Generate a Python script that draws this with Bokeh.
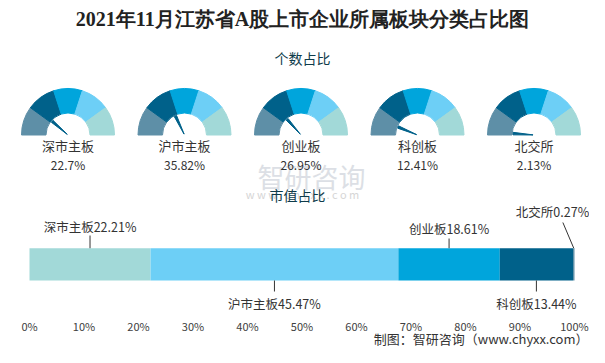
from bokeh.plotting import figure
from bokeh.models import Range1d, FixedTicker, PrintfTickFormatter
from bokeh.layouts import column
from bokeh.core.properties import value
from bokeh.embed import file_html
from bokeh.resources import INLINE
import numpy as np

# ---------------- data ----------------
title_text = "2021年11月江苏省A股上市企业所属板块分类占比图"
count_title = "个数占比"
value_title = "市值占比"
boards = ["深市主板", "沪市主板", "创业板", "科创板", "北交所"]
count_share = [22.7, 35.82, 26.95, 12.41, 2.13]     # % of companies
value_share = [22.21, 45.47, 18.61, 13.44, 0.27]    # % of market value
tick_values = [0, 10, 20, 30, 40, 50, 60, 70, 80, 90, 100]
source_note = "制图：智研咨询（www.chyxx.com）"

# ---------------- styles ----------------
FONT = value("Noto Sans CJK SC")
seg_colors = ["#5e8fa7", "#00618a", "#00a5dc", "#6dcff6", "#a2d9d8"]
bar_colors = ["#a2d9d8", "#6dcff6", "#00a5dc", "#00618a", "#5e8fa7"]
needle_color = "#00618a"
text_color = "#333333"

W, H = 589, 347
HA = 314  # height of the main (chart) figure


def X(rx):  # pixel -> percent axis units
    return (rx - 29) / 5.45


def Y(ry):  # pixel from top -> data y in main figure
    return HA - ry


xr = Range1d(X(0), X(W))

p = figure(width=W, height=HA, output_backend="svg", toolbar_location=None,
           x_range=xr, y_range=Range1d(0, HA),
           x_axis_location=None, y_axis_location=None, min_border=0)
p.grid.visible = False
p.outline_line_color = None
p.background_fill_color = "white"
p.border_fill_color = "white"

# axis + source note figure
q = figure(width=W, height=H - HA, output_backend="svg", toolbar_location=None,
           x_range=xr, y_range=Range1d(0, 1),
           x_axis_location="above", y_axis_location=None, min_border=0)
q.grid.visible = False
q.outline_line_color = None
q.background_fill_color = "white"
q.border_fill_color = "white"
ax = q.xaxis[0]
ax.ticker = FixedTicker(ticks=tick_values)
ax.formatter = PrintfTickFormatter(format="%d%%")
ax.axis_line_color = None
ax.major_tick_line_color = None
ax.minor_tick_line_color = None
ax.major_tick_out = 0
ax.major_tick_in = 0
ax.major_label_standoff = 0
ax.major_label_text_font = "Noto Sans CJK SC"
ax.major_label_text_font_size = "11px"
ax.major_label_text_color = "#404040"
q.text(x=[X(588)], y=[0], text=[source_note], text_align="right",
       text_baseline="bottom", text_font_size="13px", text_font=FONT,
       text_color=text_color)

# ---------------- titles & watermark ----------------
p.text(x=[X(302)], y=[Y(18)], text=[title_text], text_align="center",
       text_baseline="middle", text_font_size="20px", text_font_style="bold",
       text_font=value("Liberation Serif"), text_color="#222222")
p.text(x=[X(311)], y=[Y(176)], text=["智研咨询"], text_align="center",
       text_baseline="middle", text_font_size="27px", text_font=FONT,
       text_color="#dcdfe5")
p.text(x=[X(302)], y=[Y(193)], text=["w w w . c h y x x . c o m"], text_align="center",
       text_baseline="middle", text_font_size="11px", text_font=FONT,
       text_color="#d6d6d6")
p.text(x=[X(302), X(297)], y=[Y(57), Y(194)], text=[count_title, value_title],
       text_align="center", text_baseline="middle", text_font_size="14px",
       text_font=FONT, text_color="#0e3b4a")

# ---------------- gauges ----------------
gx = [X(67.5 + 116.5 * i) for i in range(len(boards))]
gy = [Y(134.5)] * len(boards)
nseg = len(seg_colors)
for k, c in enumerate(seg_colors):
    p.annular_wedge(x=gx, y=gy, inner_radius=22, outer_radius=46.5,
                    inner_radius_units="screen", outer_radius_units="screen",
                    start_angle=np.pi * (1 - (k + 1) / nseg),
                    end_angle=np.pi * (1 - k / nseg), color=c)
ang = np.pi * (1 - np.array(count_share) / 100.0)
p.annular_wedge(x=gx, y=gy, inner_radius=1, outer_radius=21,
                inner_radius_units="screen", outer_radius_units="screen",
                start_angle=ang - 0.06, end_angle=ang + 0.06, color=needle_color)
p.text(x=gx, y=[Y(145)] * len(boards), text=boards, text_align="center",
       text_baseline="middle", text_font_size="13px", text_font=FONT,
       text_color=text_color)
p.text(x=gx, y=[Y(163.5)] * len(boards), text=[f"{v}%" for v in count_share],
       text_align="center", text_baseline="middle", text_font_size="12px",
       text_font=FONT, text_color=text_color)

# ---------------- stacked bar ----------------
vals = np.array(value_share)
right = np.cumsum(vals)
left = right - vals
mids = (left + right) / 2
bar_top, bar_bot = 247.7, 280.0
p.hbar(y=Y((bar_top + bar_bot) / 2), left=left, right=right,
       height=bar_bot - bar_top, color=bar_colors, line_color=None)

lead_end_y = [235, 291, 238, 291, 222]
label_y = [226, 303, 228, 303, 211]
x_shift = [0, 0, 0, 0, -2.0]
label_shift = [0, 0, 0, 0, -3.9]
for i in range(len(boards)):
    y0 = bar_top if lead_end_y[i] < bar_top else bar_bot
    p.line(x=[mids[i], mids[i] + x_shift[i]], y=[Y(y0), Y(lead_end_y[i])],
           line_color="#333333", line_width=1)
p.text(x=mids + np.array(label_shift), y=[Y(v) for v in label_y],
       text=[f"{b}{v}%" for b, v in zip(boards, value_share)],
       text_align="center", text_baseline="middle", text_font_size="12.5px",
       text_font=FONT, text_color=text_color)

layout = column(p, q, spacing=0)
open("out.html", "w").write(file_html(layout, INLINE))
